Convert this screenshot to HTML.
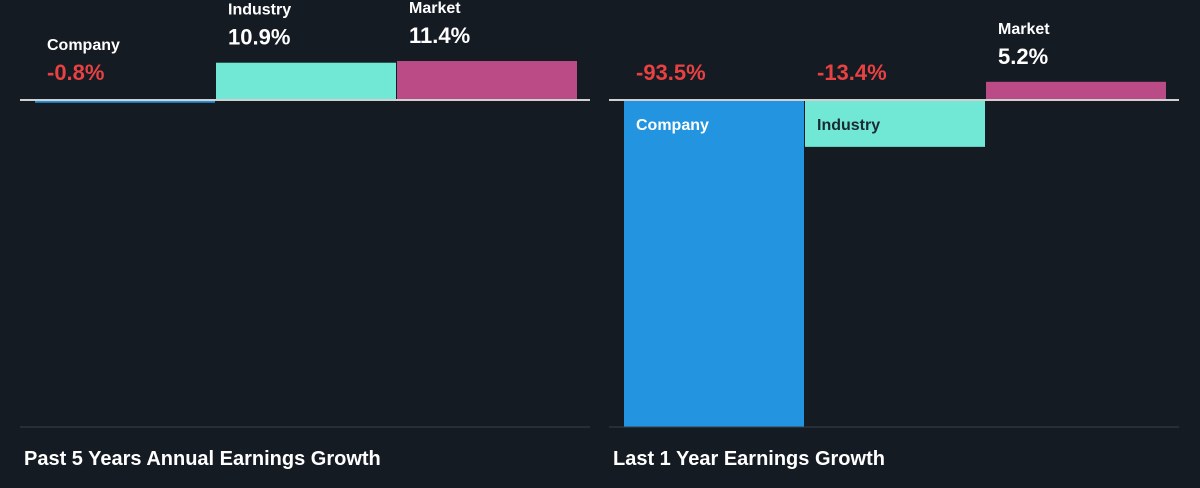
<!DOCTYPE html>
<html><head><meta charset="utf-8"><style>
body{margin:0;background:#151b23;width:1200px;height:488px;overflow:hidden;font-family:"Liberation Sans",sans-serif}
svg{display:block}
</style></head><body>
<svg id="c" width="1200" height="488"></svg>
<script>
const categories=["Company","Industry","Market"];
const past5Values=[-0.8,10.9,11.4];
const last1Values=[-93.5,-13.4,5.2];
const panelTitles=["Past 5 Years Annual Earnings Growth","Last 1 Year Earnings Growth"];
const colors=["#2394e0","#71e7d6","#bb4b86"];
const svg=document.getElementById('c');
const NS="http://www.w3.org/2000/svg";
function mk(t,a,p){const e=document.createElementNS(NS,t);for(const k in a)e.setAttribute(k,a[k]);(p||svg).appendChild(e);return e;}
function drawPanel(x0,values,title,scale,idx){
  const g=mk('g',{});
  
  
  const base=100;
  const y=v=>base-v*scale;
  const bw=180;
  values.forEach((v,i)=>{
    const bx=x0+11+i*181;
    const top=Math.min(y(v),base), h=Math.abs(y(v)-base);
    const r=mk('rect',{x:bx,y:top,width:bw,height:Math.max(h,1),fill:colors[i]},g);
    
    
    const neg=v<0;
    const valTxt=(v>0?'':'')+v.toFixed(1)+'%';
    const valY=neg?80:Math.min(y(v),base)-18;
    const vt=mk('text',{x:bx+12,y:valY,fill:neg?'#e84142':'#ffffff','font-size':22,'font-weight':'bold'},g);
    vt.textContent=valTxt;
    
    
    let ly, lc='#ffffff';
    if(neg && h>40){ly=base+30;lc=i===0?'#ffffff':'#1a2a33';}
    else ly=valY-30;
    const lt=mk('text',{x:bx+12,y:ly,fill:lc,'font-size':16,'font-weight':'bold'},g);
    lt.textContent=categories[i];
    
    
  });
  const bl=mk('line',{x1:x0-4,x2:x0+566,y1:base,y2:base,stroke:'#d0d0d0','stroke-width':2},g);
  
  
  const bot=mk('line',{x1:x0-4,x2:x0+566,y1:427,y2:427,stroke:'#3a414b','stroke-width':1},g);
  
  
  const tt=mk('text',{x:x0,y:465,fill:'#ffffff','font-size':20,'font-weight':'bold'},g);
  tt.textContent=title;
  
  
}
drawPanel(24,past5Values,panelTitles[0],3.42,0);
drawPanel(613,last1Values,panelTitles[1],3.497,1);
</script>
</body></html>
